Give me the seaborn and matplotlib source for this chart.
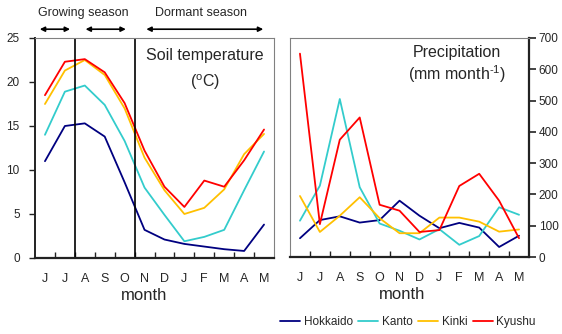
import numpy as np
import pandas as pd
import matplotlib
matplotlib.use("Agg")
import matplotlib.pyplot as plt
import seaborn as sns
from matplotlib.ticker import FixedLocator, MultipleLocator

months = ['J', 'J', 'A', 'S', 'O', 'N', 'D', 'J', 'F', 'M', 'A', 'M']
regions = ['Hokkaido', 'Kanto', 'Kinki', 'Kyushu']
colors = ['#000080', '#33CCCC', '#FFC000', '#FF0000']

temp_hokkaido = [11.0, 15.0, 15.3, 13.8, 8.6, 3.2, 2.1, 1.6, 1.3, 1.0, 0.8, 3.8]
temp_kanto = [14.0, 18.9, 19.6, 17.4, 13.3, 8.0, 4.9, 1.9, 2.4, 3.2, 7.7, 12.1]
temp_kinki = [17.5, 21.3, 22.5, 20.8, 17.0, 11.4, 7.7, 5.0, 5.7, 7.8, 11.8, 14.1]
temp_kyushu = [18.5, 22.3, 22.6, 21.1, 17.6, 12.2, 8.1, 5.8, 8.8, 8.1, 11.1, 14.6]

prec_hokkaido = [60, 118, 130, 110, 118, 180, 132, 92, 109, 94, 32, 68]
prec_kanto = [116, 228, 505, 223, 107, 84, 56, 89, 39, 67, 159, 135]
prec_kinki = [195, 80, 132, 191, 124, 76, 76, 126, 126, 113, 81, 88]
prec_kyushu = [650, 105, 375, 446, 167, 148, 80, 86, 227, 266, 180, 60]

temp = [temp_hokkaido, temp_kanto, temp_kinki, temp_kyushu]
prec = [prec_hokkaido, prec_kanto, prec_kinki, prec_kyushu]

rows = []
for r, t, p in zip(regions, temp, prec):
    for i in range(len(months)):
        rows.append({'idx': i, 'region': r, 'temp': t[i], 'prec': p[i]})
df = pd.DataFrame(rows)

sns.set_style("white")
plt.rcParams['font.family'] = ['Liberation Sans', 'DejaVu Sans']
plt.rcParams['mathtext.fontset'] = 'custom'
plt.rcParams['mathtext.rm'] = 'Liberation Sans'
plt.rcParams['mathtext.it'] = 'Liberation Sans'

fig = plt.figure(figsize=(5.62, 3.34), dpi=100)
ax1 = fig.add_axes([35 / 562, 1 - 258 / 334, 239 / 562, 220 / 334])
ax2 = fig.add_axes([290 / 562, 1 - 257 / 334, 239 / 562, 219 / 334])

palette = dict(zip(regions, colors))
sns.lineplot(data=df, x='idx', y='temp', hue='region', palette=palette,
             hue_order=regions, ax=ax1, linewidth=1.3, legend=False)
sns.lineplot(data=df, x='idx', y='prec', hue='region', palette=palette,
             hue_order=regions, ax=ax2, linewidth=1.3, legend=True)

for ax in (ax1, ax2):
    ax.set_xlim(-0.5, 11.5)
    ax.set_xticks(range(12))
    ax.set_xticklabels(months, fontsize=9)
    ax.xaxis.set_minor_locator(FixedLocator(np.arange(0.5, 11.5, 1)))
    ax.tick_params(axis='x', which='major', length=0, pad=11)
    ax.tick_params(axis='x', which='minor', direction='in', length=4,
                   width=1, color='#222222', bottom=True)
    ax.set_xlabel('month', fontsize=12)
    ax.set_ylabel('')
    for s in ax.spines.values():
        s.set_visible(True)
        s.set_color('#808080')
        s.set_linewidth(0.8)
    ax.spines['bottom'].set_color('#222222')
    ax.spines['bottom'].set_linewidth(1.6)

ax1.xaxis.set_label_coords(0.458, -0.135)
ax2.xaxis.set_label_coords(0.469, -0.135)

ax1.set_ylim(0, 25)
ax1.yaxis.set_major_locator(MultipleLocator(5))
ax1.tick_params(axis='y', direction='out', length=4, width=1, pad=7,
                labelsize=8.5, color='#222222', left=True)
ax1.spines['left'].set_color('#222222')
ax1.spines['left'].set_linewidth(1.4)

ax2.set_ylim(0, 700)
ax2.yaxis.set_major_locator(MultipleLocator(100))
ax2.yaxis.tick_right()
ax2.tick_params(axis='y', direction='out', length=5, width=1.2, pad=2,
                labelsize=8.5, color='#222222', right=True, left=False)
ax2.spines['right'].set_color('#222222')
ax2.spines['right'].set_linewidth(1.6)

# season dividers
for xv in (1.5, 4.5):
    ax1.axvline(xv, color='black', linewidth=1.2)

# season arrows
arrow_kw = dict(arrowstyle='<|-|>', color='black', lw=1.2, mutation_scale=7)
for x0, x1 in ((-0.4, 1.4), (1.9, 4.2), (4.95, 11.1)):
    ax1.annotate('', xy=(x1, 26.0), xytext=(x0, 26.0), xycoords='data',
                 arrowprops=arrow_kw, annotation_clip=False)
ax1.text(1.95, 27.8, 'Growing season', ha='center', va='center', fontsize=9,
         clip_on=False)
ax1.text(7.85, 27.8, 'Dormant season', ha='center', va='center', fontsize=9,
         clip_on=False)

ax1.text(0.71, 0.92, 'Soil temperature', transform=ax1.transAxes,
         ha='center', va='center', fontsize=11.5)
ax1.text(0.71, 0.80, r'($^{\rm o}$C)', transform=ax1.transAxes,
         ha='center', va='center', fontsize=11.5)
ax2.text(0.70, 0.935, 'Precipitation', transform=ax2.transAxes,
         ha='center', va='center', fontsize=11.5)
ax2.text(0.70, 0.835, r'(mm month$^{\text{-}1}$)', transform=ax2.transAxes,
         ha='center', va='center', fontsize=11.5)

handles, labels = ax2.get_legend_handles_labels()
ax2.get_legend().remove()
fig.legend(handles, labels, loc='center', bbox_to_anchor=(408 / 562, 1 - 322 / 334),
           ncol=4, frameon=False, fontsize=8.5, handlelength=1.7,
           handletextpad=0.3, columnspacing=0.45, borderaxespad=0)

fig.savefig('out.png', dpi=100)
